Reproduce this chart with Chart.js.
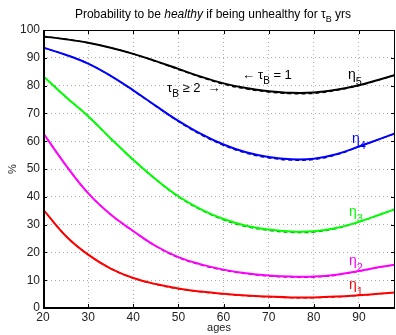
<!DOCTYPE html>
<html>
<head>
<meta charset="utf-8">
<script src="https://cdn.jsdelivr.net/npm/chart.js@4.4.1/dist/chart.umd.min.js"></script>
<style>
  html, body { margin: 0; padding: 0; background: #fff; }
  #wrap { width: 396px; height: 335px; }
</style>
</head>
<body>
<div id="wrap"><canvas id="grafico"></canvas></div>
<script>
// ages on the x axis
const ages = [20, 25, 30, 35, 40, 45, 50, 55, 60, 65, 70, 75, 80, 85, 90, 95, 98]

// tau_B = 1 (solid)
const eta5 = [97.7, 96.7, 95.4, 93.6, 91.4, 88.8, 86, 83.2, 80.8, 79.1, 78, 77.4, 77.5, 78.5, 80.1, 82.4, 83.8]
const eta4 = [93.7, 91.1, 87.9, 83.5, 78.3, 72.7, 67.3, 62.6, 58.8, 56, 54.3, 53.5, 53.7, 55.3, 58.1, 61, 62.8]
const eta3 = [83.5, 76, 69, 61, 53.3, 46.3, 40.2, 35.5, 32, 29.6, 28.2, 27.5, 27.6, 28.8, 31, 33.8, 35.5]
const eta2 = [63, 51.5, 41.3, 33.6, 27.7, 22.3, 18.3, 15.7, 13.8, 12.5, 11.7, 11.3, 11.3, 12, 13.3, 14.8, 15.6]
const eta1 = [35.5, 26, 19.2, 14.2, 10.8, 8.6, 7, 5.9, 5.1, 4.5, 4.1, 3.8, 3.8, 4.1, 4.6, 5.2, 5.6]

// tau_B >= 2 (dashed)
const eta5b = [97.7, 96.7, 95.4, 93.6, 91.4, 88.7, 85.8, 83, 80.5, 78.8, 77.7, 77.1, 77.2, 78.3, 80, 82.3, 83.8]
const eta4b = [93.7, 91.1, 87.9, 83.5, 78.2, 72.6, 67.1, 62.3, 58.5, 55.7, 54, 53.2, 53.4, 55.1, 58, 61, 62.8]
const eta3b = [83.5, 76, 69, 61, 53.2, 46.2, 40, 35.3, 31.7, 29.3, 27.9, 27.2, 27.3, 28.6, 30.9, 33.8, 35.5]
const eta2b = [63, 51.5, 41.3, 33.6, 27.6, 22.2, 18.1, 15.5, 13.6, 12.3, 11.5, 11.1, 11.1, 11.8, 13.2, 14.8, 15.6]
const eta1b = [35.5, 26, 19.2, 14.2, 10.7, 8.5, 6.9, 5.8, 5, 4.4, 4, 3.7, 3.7, 4, 4.5, 5.2, 5.6]

const xTicks = [20, 30, 40, 50, 60, 70, 80, 90]
const yTicks = [0, 10, 20, 30, 40, 50, 60, 70, 80, 90, 100]

const series = [
    {name: 'η5', sub: '5', solid: eta5, dashed: eta5b, color: '#000000', dark: '#000000'},
    {name: 'η4', sub: '4', solid: eta4, dashed: eta4b, color: '#0000ff', dark: '#000066'},
    {name: 'η3', sub: '3', solid: eta3, dashed: eta3b, color: '#00ff00', dark: '#008800'},
    {name: 'η2', sub: '2', solid: eta2, dashed: eta2b, color: '#ff00ff', dark: '#880088'},
    {name: 'η1', sub: '1', solid: eta1, dashed: eta1b, color: '#ff0000', dark: '#880000'}
]

const pts = (vals) => ages.map((a, i) => ({x: a, y: vals[i]}))

const datasets = []
series.forEach(s => {
    datasets.push({
        label: s.name + ' dashed',
        data: pts(s.dashed),
        borderColor: s.dark,
        borderWidth: 1.3,
        borderDash: [4, 3],
        pointRadius: 0,
        tension: 0.4,
        fill: false,
        order: 2
    })
    datasets.push({
        label: s.name,
        data: pts(s.solid),
        borderColor: s.color,
        borderWidth: 2,
        pointRadius: 0,
        tension: 0.4,
        fill: false,
        order: 1
    })
})

const fuente = '"Liberation Sans", Arial, sans-serif'

// writes text with a subscript piece
const subText = (ctx, x, y, main, sub, size, color, rest, subSize) => {
    ctx.fillStyle = color
    ctx.font = size + 'px ' + fuente
    ctx.fillText(main, x, y)
    let w = ctx.measureText(main).width
    ctx.font = (subSize || Math.round(size * 0.75)) + 'px ' + fuente
    ctx.fillText(sub, x + w, y + size * 0.4)
    w += ctx.measureText(sub).width
    if (rest) {
        ctx.font = size + 'px ' + fuente
        ctx.fillText(rest, x + w, y)
        w += ctx.measureText(rest).width
    }
    return w
}

const decoracion = {
    id: 'decoracion',
    afterDraw(chart) {
        const {ctx, chartArea: {top, bottom, left, right}, scales: {x, y}} = chart
        ctx.save()

        // frame + inward ticks
        ctx.strokeStyle = '#000'
        ctx.lineWidth = 1
        ctx.strokeRect(left + 0.5, top + 0.5, right - left - 1, bottom - top - 1)
        ctx.lineWidth = 2
        ctx.beginPath()
        ctx.moveTo(left + 1, top); ctx.lineTo(left + 1, bottom)
        ctx.lineTo(right, bottom - 0)
        ctx.stroke()
        ctx.lineWidth = 1
        ctx.beginPath()
        xTicks.forEach(v => {
            const px = Math.round(x.getPixelForValue(v)) + 0.5
            ctx.moveTo(px, bottom); ctx.lineTo(px, bottom - 4)
            ctx.moveTo(px, top); ctx.lineTo(px, top + 4)
        })
        yTicks.forEach(v => {
            const py = Math.round(y.getPixelForValue(v)) + 0.5
            ctx.moveTo(left, py); ctx.lineTo(left + 4, py)
            ctx.moveTo(right, py); ctx.lineTo(right - 4, py)
        })
        ctx.stroke()

        // title
        ctx.textBaseline = 'alphabetic'
        ctx.textAlign = 'left'
        ctx.fillStyle = '#000'
        const parts = [
            ['Probability to be ', 'normal'],
            ['healthy', 'italic'],
            [' if being unhealthy for τ', 'normal']
        ]
        let total = 0
        parts.forEach(p => { ctx.font = p[1] + ' 12px ' + fuente; total += ctx.measureText(p[0]).width })
        ctx.font = '9px ' + fuente
        total += ctx.measureText('B').width
        ctx.font = '12px ' + fuente
        total += ctx.measureText(' yrs').width
        let tx = 213 - total / 2
        const ty = 18
        parts.forEach(p => {
            ctx.font = p[1] + ' 12px ' + fuente
            ctx.fillText(p[0], tx, ty)
            tx += ctx.measureText(p[0]).width
        })
        ctx.font = '9px ' + fuente
        ctx.fillText('B', tx, ty + 4)
        tx += ctx.measureText('B').width
        ctx.font = '12px ' + fuente
        ctx.fillText(' yrs', tx, ty)

        // curve labels
        const labPos = [
            [348, 79, '#000000', '5'],
            [352, 143, '#0000ff', '4'],
            [349, 216, '#00ff00', '3'],
            [349, 265, '#ff00ff', '2'],
            [349, 289, '#ff0000', '1']
        ]
        labPos.forEach(l => subText(ctx, l[0], l[1], 'η', l[3], 14, l[2], null, 11))

        // tau annotations
        ctx.fillStyle = '#000'
        ctx.font = '13px ' + fuente
        ctx.fillText('←', 242, 79)
        subText(ctx, 258, 79, 'τ', 'B', 13, '#000', ' = 1', 10)
        const w = subText(ctx, 167, 92, 'τ', 'B', 13, '#000', ' ≥ 2  ', 10)
        ctx.font = '13px ' + fuente
        ctx.fillText('→', 167 + w, 92)

        ctx.restore()
    }
}

const config = {
    type: 'line',
    data: {datasets},
    options: {
        responsive: true,
        maintainAspectRatio: false,
        animation: false,
        layout: {padding: {top: 30, right: 1, left: 6, bottom: 0}},
        plugins: {legend: {display: false}, tooltip: {enabled: false}},
        scales: {
            x: {
                type: 'linear',
                min: 20,
                max: 98,
                afterBuildTicks: (scale) => { scale.ticks = xTicks.map(v => ({value: v})) },
                afterFit: (scale) => { scale.height = 27 },
                grid: {color: '#aaa', drawTicks: false, lineWidth: 1},
                border: {display: false, dash: [1, 3]},
                ticks: {color: '#222', font: {family: fuente, size: 12}, padding: 2, maxRotation: 0},
                title: {display: true, text: 'ages', color: '#222', font: {family: fuente, size: 11}, padding: {top: -2, bottom: 0}}
            },
            y: {
                min: 0,
                max: 100,
                afterBuildTicks: (scale) => { scale.ticks = yTicks.map(v => ({value: v})) },
                afterFit: (scale) => { scale.width = 37 },
                grid: {color: '#aaa', drawTicks: false, lineWidth: 1},
                border: {display: false, dash: [1, 3]},
                ticks: {color: '#222', font: {family: fuente, size: 12}, padding: 3},
                title: {display: true, text: '%', color: '#222', font: {family: fuente, size: 11}, padding: 0}
            }
        }
    },
    plugins: [decoracion]
}

new Chart(document.getElementById('grafico'), config)
</script>
</body>
</html>
